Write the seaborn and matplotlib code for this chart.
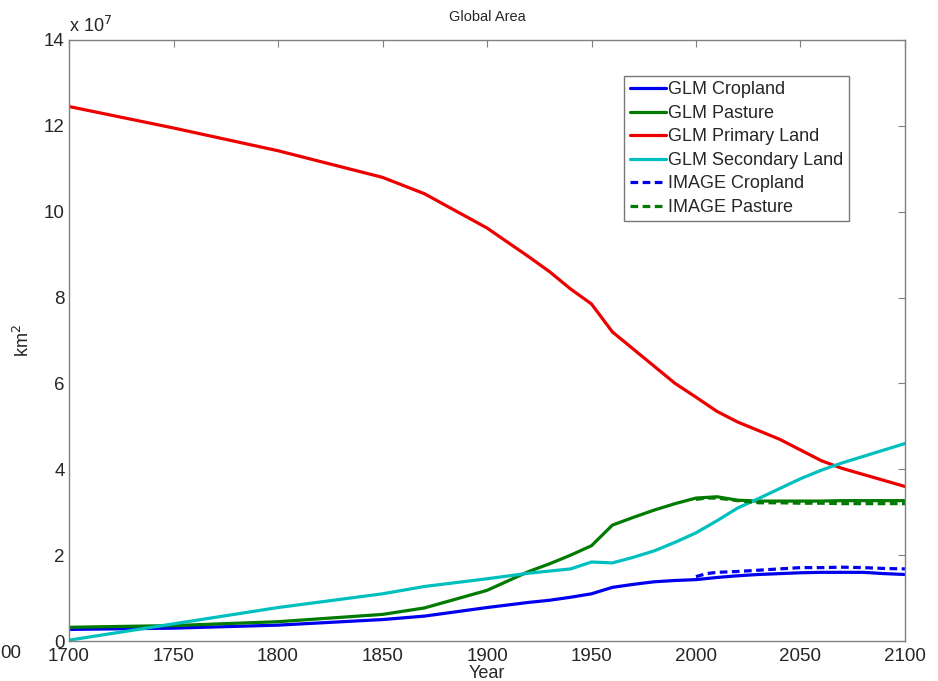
import pandas as pd
import seaborn as sns
import matplotlib.pyplot as plt

# values in units of 1e7 km^2
years = [1700, 1750, 1800, 1850, 1870, 1900, 1920, 1930, 1940, 1950, 1960, 1970, 1980,
         1990, 2000, 2010, 2020, 2030, 2040, 2050, 2060, 2070, 2080, 2090, 2100]
glm_cropland = [0.27, 0.30, 0.37, 0.50, 0.58, 0.78, 0.90, 0.95, 1.02, 1.10, 1.25, 1.32, 1.38,
                1.41, 1.43, 1.48, 1.52, 1.55, 1.57, 1.59, 1.60, 1.60, 1.60, 1.57, 1.55]
glm_pasture = [0.32, 0.36, 0.45, 0.62, 0.77, 1.18, 1.62, 1.80, 2.00, 2.22, 2.70, 2.88, 3.05,
               3.20, 3.33, 3.36, 3.28, 3.26, 3.26, 3.26, 3.26, 3.27, 3.27, 3.27, 3.27]
glm_primary = [12.45, 11.95, 11.42, 10.80, 10.42, 9.62, 8.95, 8.60, 8.20, 7.85, 7.20, 6.80, 6.40,
               6.00, 5.68, 5.35, 5.10, 4.90, 4.70, 4.45, 4.20, 4.02, 3.88, 3.74, 3.60]
glm_secondary = [0.02, 0.40, 0.78, 1.10, 1.27, 1.45, 1.58, 1.63, 1.68, 1.84, 1.82, 1.95, 2.10,
                 2.30, 2.52, 2.80, 3.10, 3.32, 3.55, 3.78, 3.98, 4.15, 4.30, 4.45, 4.60]

image_years = [2000, 2005, 2010, 2020, 2030, 2040, 2050, 2060, 2070, 2080, 2090, 2100]
image_cropland = [1.50, 1.57, 1.60, 1.62, 1.65, 1.68, 1.71, 1.71, 1.72, 1.71, 1.69, 1.68]
image_pasture = [3.30, 3.33, 3.33, 3.27, 3.22, 3.22, 3.21, 3.21, 3.20, 3.20, 3.20, 3.20]

series = [
    ("GLM Cropland", years, glm_cropland, "#0000ee", "-"),
    ("GLM Pasture", years, glm_pasture, "#007a00", "-"),
    ("GLM Primary Land", years, glm_primary, "#ee0000", "-"),
    ("GLM Secondary Land", years, glm_secondary, "#00bfbf", "-"),
    ("IMAGE Cropland", image_years, image_cropland, "#0000ee", "--"),
    ("IMAGE Pasture", image_years, image_pasture, "#007a00", "--"),
]

sns.set_style("white")
plt.rcParams['font.family'] = ['Liberation Sans', 'DejaVu Sans']

fig = plt.figure(figsize=(9.38, 6.81), dpi=100)
ax = fig.add_axes([0.0736, 0.0587, 0.8912, 0.8826])

for name, x, y, color, ls in series:
    df = pd.DataFrame({"Year": x, "Area": y})
    line = sns.lineplot(data=df, x="Year", y="Area", ax=ax, color=color,
                        linewidth=2.3, label=name).lines[-1]
    if ls == "--":
        line.set_dashes((2.4, 1.4))

ax.set_xlim(1700, 2100)
ax.set_ylim(0, 14)
ax.set_xticks(range(1700, 2101, 50))
ax.set_yticks(range(0, 15, 2))
ax.tick_params(direction="in", top=True, right=True, labelsize=13.5, length=5,
               color="#808080")
ax.tick_params(axis="x", pad=5)
ax.tick_params(axis="y", pad=3)
for s in ax.spines.values():
    s.set_color("#808080")
    s.set_linewidth(1.0)

ax.set_xlabel("Year", fontsize=13, labelpad=0)
ax.set_ylabel("km$^2$", fontsize=13, labelpad=8)
ax.set_title("Global Area", fontsize=10.5, pad=14)
ax.text(0.0, 1.006, "x 10$^{7}$", transform=ax.transAxes, fontsize=13,
        ha="left", va="bottom")
fig.text(0.0, 0.041, "00", fontsize=13.5, ha="left", va="center")

leg = ax.legend(loc="upper left", bbox_to_anchor=(0.664, 0.94), fontsize=13,
                frameon=True, fancybox=False, handlelength=2.0, handletextpad=0.15,
                labelspacing=0.36, borderpad=0.3, borderaxespad=0)
leg.get_frame().set_edgecolor("#555555")
leg.get_frame().set_linewidth(1.0)

plt.savefig("out.png", dpi=100)
plt.close()
